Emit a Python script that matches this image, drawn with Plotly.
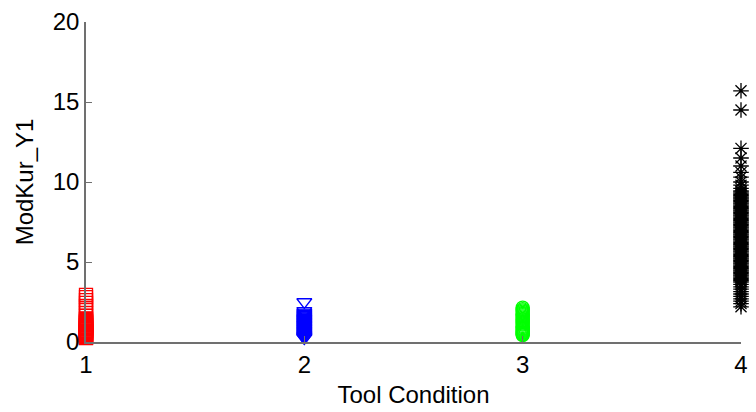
import plotly.graph_objects as go

# Tool condition groups
cond1 = [2.95, 2.8, 2.62, 2.45, 2.25, 2.02, 1.82, 1.65, 1.48, 1.42, 1.38, 1.33, 1.3,
         1.26, 1.22, 1.18, 1.14, 1.1, 1.06, 1.02, 0.98, 0.95, 0.91, 0.87, 0.84,
         0.8, 0.77, 0.73, 0.7, 0.66, 0.62, 0.59, 0.55, 0.52, 0.49, 0.45, 0.42,
         0.39, 0.35, 0.32, 0.29, 0.26, 0.24]
cond2 = [2.5, 1.95, 1.85, 1.78, 1.72, 1.66, 1.61, 1.56, 1.51, 1.47, 1.43, 1.39,
         1.35, 1.31, 1.27, 1.23, 1.19, 1.15, 1.11, 1.07, 1.03, 0.99, 0.95, 0.91,
         0.87, 0.83, 0.79, 0.75, 0.71, 0.67, 0.63, 0.59, 0.55, 0.51, 0.47, 0.43,
         0.4, 0.36, 0.33, 0.3, 0.27, 0.25]
cond3 = [2.15, 2.05, 1.98, 1.9, 1.82, 1.75, 1.68, 1.6, 1.52, 1.45, 1.37, 1.3, 1.22,
         1.15, 1.08, 1.0, 0.93, 0.86, 0.8, 0.74, 0.68, 0.62, 0.57, 0.52, 0.47, 0.43]
cond4 = [15.7, 14.5, 12.1, 11.5, 11.0, 10.6, 10.3, 10.0, 9.8, 9.6, 9.45, 9.38, 9.3,
         9.22, 9.15, 9.07, 9.0, 8.93, 8.85, 8.78, 8.7, 8.63, 8.55, 8.48, 8.4, 8.33,
         8.25, 8.18, 8.1, 8.03, 7.95, 7.88, 7.8, 7.73, 7.65, 7.58, 7.5, 7.43, 7.35,
         7.28, 7.2, 7.13, 7.05, 6.98, 6.9, 6.83, 6.75, 6.68, 6.6, 6.53, 6.45, 6.38,
         6.3, 6.23, 6.15, 6.08, 6.0, 5.93, 5.85, 5.78, 5.7, 5.63, 5.55, 5.48, 5.4,
         5.33, 5.25, 5.18, 5.1, 5.03, 4.95, 4.88, 4.8, 4.73, 4.65, 4.58, 4.5, 4.43,
         4.35, 4.28, 4.2, 4.13, 4.05, 3.98, 3.9, 3.83, 3.75, 3.6, 3.45, 3.3, 3.15,
         3.0, 2.85, 2.7, 2.55, 2.4, 2.2]

groups = [
    (1, cond1, "red", "square-open"),
    (2, cond2, "blue", "triangle-down-open"),
    (3, cond3, "#00ff00", "circle-open"),
    (4, cond4, "black", "asterisk-open"),
]

x_ticks = [1, 2, 3, 4]
y_ticks = [0, 5, 10, 15, 20]

fig = go.Figure()
for xv, vals, color, sym in groups:
    fig.add_trace(go.Scatter(
        x=[xv] * len(vals), y=vals, mode="markers", cliponaxis=False,
        marker=dict(symbol=sym, size=13, color=color,
                    line=dict(color=color, width=1.3)),
        showlegend=False,
    ))

axis_common = dict(
    showgrid=False, zeroline=False, showline=True, linecolor="#707070",
    linewidth=1.5, ticks="inside", ticklen=6, tickcolor="#707070",
    tickfont=dict(family="Arial, Liberation Sans", size=24, color="black"),
    mirror=False,
)

fig.update_layout(
    width=756, height=412,
    margin=dict(l=86, r=8, t=15, b=69),
    paper_bgcolor="white", plot_bgcolor="white",
    xaxis=dict(range=[1, 4], tickvals=x_ticks, **axis_common,
               title=dict(text="Tool Condition", standoff=10,
                          font=dict(family="Arial, Liberation Sans", size=24, color="black"))),
    yaxis=dict(range=[0, 20], tickvals=y_ticks, **axis_common,
               title=dict(text="ModKur_Y1", standoff=12,
                          font=dict(family="Arial, Liberation Sans", size=24, color="black"))),
)

fig.write_html("out.html")
